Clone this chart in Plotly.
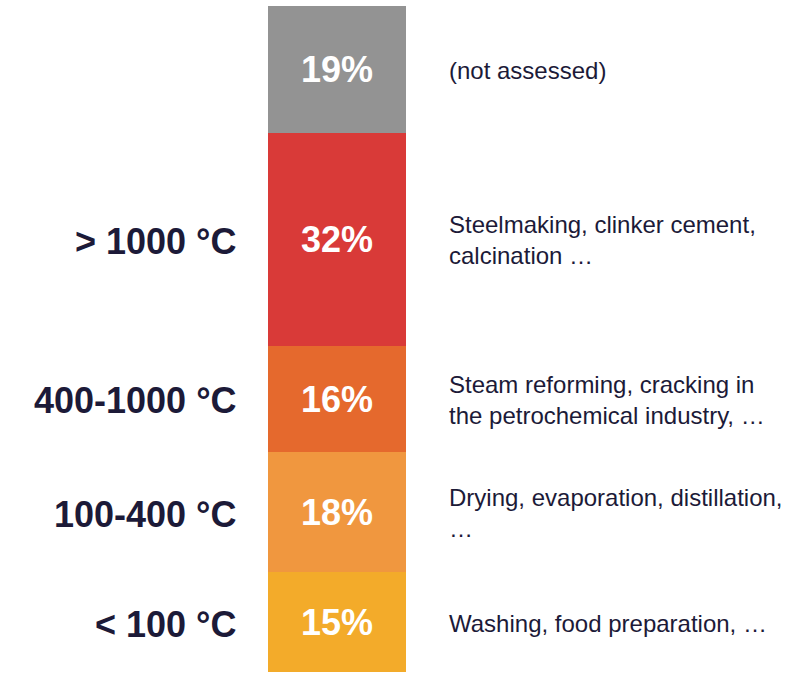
import plotly.graph_objects as go

# Share of industrial heat demand by temperature band (bottom to top)
bands = ["< 100 °C", "100-400 °C", "400-1000 °C", "> 1000 °C", ""]
shares = [15, 18, 16, 32, 19]
examples = [
    "Washing, food preparation, …",
    "Drying, evaporation, distillation,<br>…",
    "Steam reforming, cracking in<br>the petrochemical industry, …",
    "Steelmaking, clinker cement,<br>calcination …",
    "(not assessed)",
]
colors = ["#F3AB2A", "#F0973F", "#E5692D", "#D93A38", "#939393"]

FONT = "Liberation Sans"
INK = "#1C1A38"

fig = go.Figure()
for band, share, col in zip(bands, shares, colors):
    fig.add_trace(go.Bar(
        x=[0], y=[share], marker=dict(color=col, line=dict(width=0)),
        text=[f"{share}%"], textposition="inside", insidetextanchor="middle",
        textfont=dict(family=FONT, size=36, color="white", weight="bold"),
        textangle=0, width=1, showlegend=False, hoverinfo="skip",
    ))

# Labels on both sides, centred on each segment
base = 0
annotations = []
for band, share, ex in zip(bands, shares, examples):
    mid = base + share / 2
    base += share
    if band:
        annotations.append(dict(
            x=0, xref="paper", y=mid, yref="y", text=band, showarrow=False,
            xanchor="right", yanchor="middle", xshift=-29, yshift=-2,
            font=dict(family=FONT, size=36, color=INK, weight="bold"),
        ))
    annotations.append(dict(
        x=1, xref="paper", y=mid, yref="y", text=ex, showarrow=False,
        xanchor="left", yanchor="middle", xshift=41, yshift=-1, align="left",
        font=dict(family=FONT, size=24, color=INK),
    ))

fig.update_layout(
    barmode="stack", bargap=0,
    width=810, height=673,
    margin=dict(l=268, r=404, t=6, b=1),
    paper_bgcolor="white", plot_bgcolor="white",
    xaxis=dict(visible=False, range=[-0.5, 0.5]),
    yaxis=dict(visible=False, range=[0, sum(shares)]),
    uniformtext=dict(minsize=36, mode="show"),
    annotations=annotations,
)

fig.write_html("out.html")
